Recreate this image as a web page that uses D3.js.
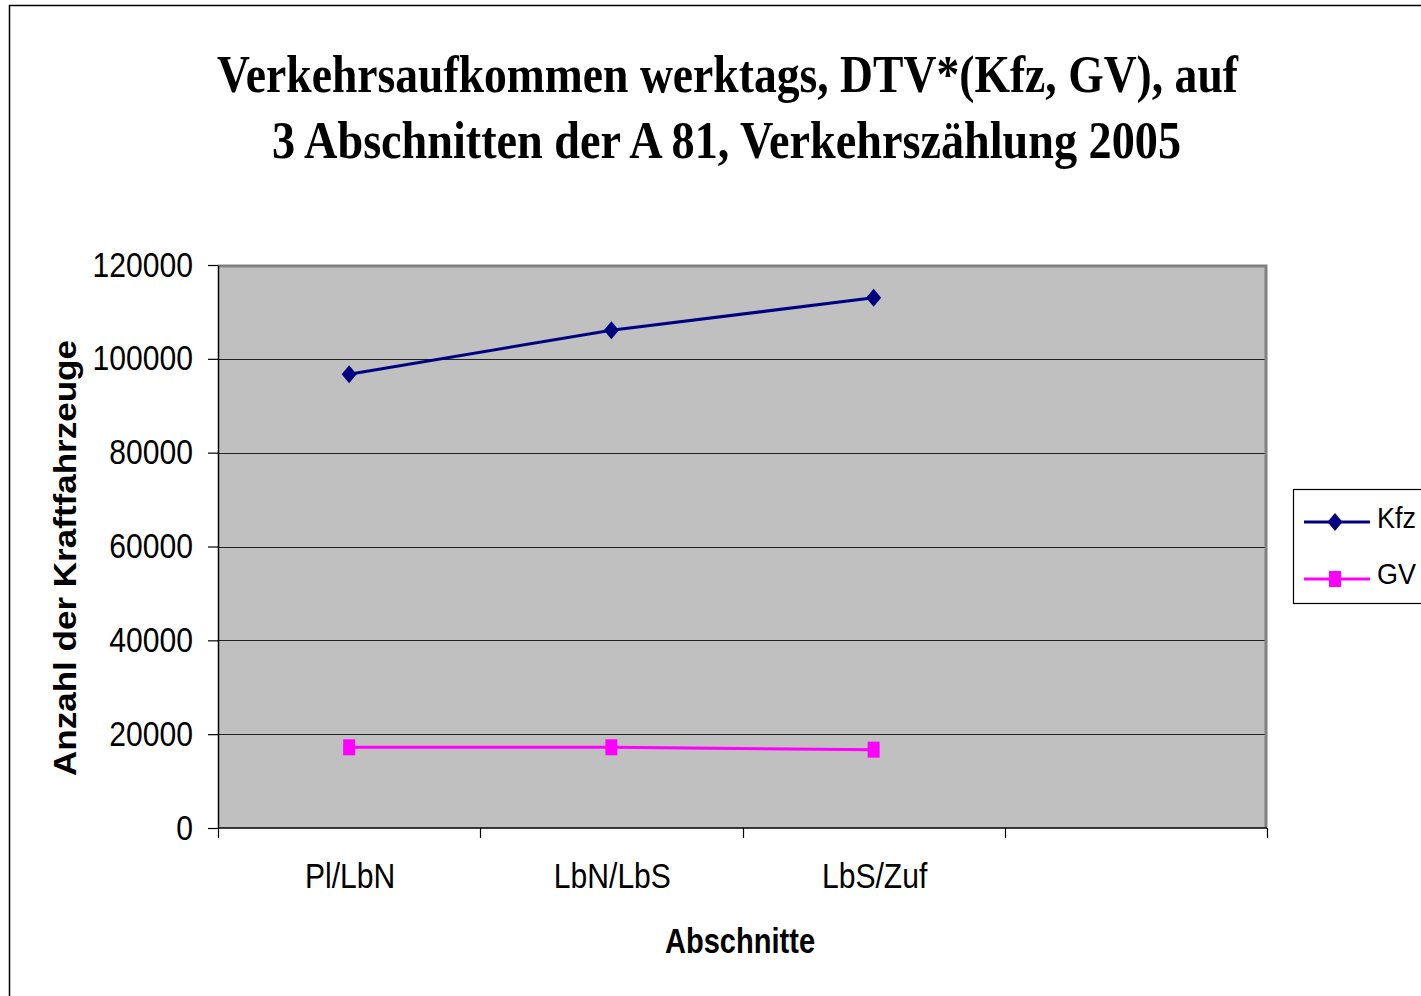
<!DOCTYPE html>
<html><head><meta charset="utf-8">
<script src="https://cdn.jsdelivr.net/npm/d3@7/dist/d3.min.js"></script>
<style>html,body{margin:0;padding:0;background:#fff;overflow:hidden}</style>
</head><body>
<script>
const categories = ["Pl/LbN", "LbN/LbS", "LbS/Zuf", ""];
const kfzValues = [96700, 106100, 113000];
const gvValues = [17200, 17200, 16700];
const yTicks = [0, 20000, 40000, 60000, 80000, 100000, 120000];
const titleLines = ["Verkehrsaufkommen werktags, DTV*(Kfz, GV), auf", "3 Abschnitten der A 81, Verkehrszählung 2005"];
const seriesNames = ["Kfz", "GV"];
const yTitle = "Anzahl der Kraftfahrzeuge";
const xTitle = "Abschnitte";

const W = 1421, H = 996;
const plot = {left: 218, right: 1267, top: 265, bottom: 828};
const SANS = "'Liberation Sans', Arial, sans-serif";
const SERIF = "'Liberation Serif', 'Times New Roman', serif";
const SX = 0.86;

const svg = d3.select("body").append("svg").attr("width", W).attr("height", H);

// outer chart border
svg.append("rect").attr("x", 9.5).attr("y", 5.5).attr("width", 1500).attr("height", 1200)
  .attr("fill", "#fff").attr("stroke", "#000").attr("stroke-width", 1.5);

// title
const titleLayout = [{y: 92, cx: 727.5, len: 1021}, {y: 158, cx: 726.5, len: 909}];
titleLines.forEach((t, i) => {
  svg.append("text").attr("x", titleLayout[i].cx).attr("y", titleLayout[i].y)
    .attr("text-anchor", "middle").attr("font-family", SERIF).attr("font-weight", "bold")
    .attr("font-size", 52).attr("textLength", titleLayout[i].len)
    .attr("lengthAdjust", "spacingAndGlyphs").attr("fill", "#000").text(t);
});

const x = d3.scaleBand().domain(categories).range([plot.left, plot.right]);
const y = d3.scaleLinear().domain([0, 120000]).range([plot.bottom, plot.top]);

// plot background
svg.append("rect").attr("x", plot.left).attr("y", plot.top)
  .attr("width", plot.right - plot.left).attr("height", plot.bottom - plot.top)
  .attr("fill", "#c0c0c0");

// gridlines
svg.append("g").selectAll("line").data(yTicks.filter(v => v > 0 && v < 120000)).join("line")
  .attr("x1", plot.left).attr("x2", plot.right)
  .attr("y1", d => Math.round(y(d)) + 0.5).attr("y2", d => Math.round(y(d)) + 0.5)
  .attr("stroke", "#222").attr("stroke-width", 1.2);

// plot border top/right
svg.append("path")
  .attr("d", `M${plot.left},${plot.top + 1} H${plot.right - 1} V${plot.bottom}`)
  .attr("fill", "none").attr("stroke", "#808080").attr("stroke-width", 3);

// y axis
const yAxis = svg.append("g").attr("transform", `translate(${plot.left},0)`)
  .call(d3.axisLeft(y).tickValues(yTicks).tickSize(10).tickSizeOuter(0).tickFormat(d => String(d)));
yAxis.select(".domain").attr("stroke", "#000").attr("stroke-width", 1.5);
yAxis.selectAll(".tick line").attr("stroke", "#000").attr("stroke-width", 1.2);
yAxis.selectAll(".tick text")
  .attr("font-family", SANS).attr("font-size", 35).attr("fill", "#000")
  .attr("text-anchor", "end").attr("x", -25 / SX).attr("dy", 11)
  .attr("transform", `scale(${SX},1)`);

// x axis (ticks at category boundaries)
const xAxisG = svg.append("g");
xAxisG.append("line").attr("x1", plot.left).attr("x2", plot.right)
  .attr("y1", plot.bottom).attr("y2", plot.bottom).attr("stroke", "#000").attr("stroke-width", 1.5);
const bounds = categories.map(c => x(c)).concat([x.range()[1]]);
xAxisG.selectAll("line.tk").data(bounds).join("line").attr("class", "tk")
  .attr("x1", d => Math.round(d) + 0.5).attr("x2", d => Math.round(d) + 0.5)
  .attr("y1", plot.bottom).attr("y2", plot.bottom + 10).attr("stroke", "#000").attr("stroke-width", 1.2);
xAxisG.selectAll("text").data(categories.filter(c => c !== "")).join("text")
  .attr("transform", d => `translate(${x(d) + x.bandwidth() / 2 + 1},888) scale(${SX},1)`)
  .attr("text-anchor", "middle").attr("font-family", SANS).attr("font-size", 35).attr("fill", "#000")
  .text(d => d);

// axis titles
svg.append("text").attr("transform", `translate(740,953) scale(0.83,1)`)
  .attr("text-anchor", "middle").attr("font-family", SANS).attr("font-weight", "bold")
  .attr("font-size", 35).attr("fill", "#000").text(xTitle);
svg.append("text").attr("transform", `translate(76,558) rotate(-90)`)
  .attr("text-anchor", "middle").attr("font-family", SANS).attr("font-weight", "bold")
  .attr("font-size", 32).attr("textLength", 436).attr("lengthAdjust", "spacingAndGlyphs")
  .attr("fill", "#000").text(yTitle);

// series
const cx = (i) => x(categories[i]) + x.bandwidth() / 2;
const line = d3.line().x((d, i) => cx(i)).y(d => y(d));
const diamond = (px, py) => `M${px},${py - 9} L${px + 7.5},${py} L${px},${py + 9} L${px - 7.5},${py} Z`;

svg.append("path").datum(kfzValues).attr("d", line).attr("fill", "none")
  .attr("stroke", "#000080").attr("stroke-width", 3);
svg.append("g").selectAll("path").data(kfzValues).join("path")
  .attr("d", (d, i) => diamond(cx(i), y(d))).attr("fill", "#000080");

svg.append("path").datum(gvValues).attr("d", line).attr("fill", "none")
  .attr("stroke", "#ff00ff").attr("stroke-width", 3);
svg.append("g").selectAll("rect").data(gvValues).join("rect")
  .attr("x", (d, i) => cx(i) - 6).attr("y", d => y(d) - 8)
  .attr("width", 12).attr("height", 16).attr("fill", "#ff00ff");

// legend
const lg = svg.append("g");
lg.append("rect").attr("x", 1293.5).attr("y", 489.5).attr("width", 200).attr("height", 114)
  .attr("fill", "#fff").attr("stroke", "#000").attr("stroke-width", 1.2);
const legendRows = [{name: seriesNames[0], color: "#000080", ly: 522, ty: 528, marker: "diamond"},
                    {name: seriesNames[1], color: "#ff00ff", ly: 579, ty: 584, marker: "square"}];
legendRows.forEach(r => {
  lg.append("line").attr("x1", 1304).attr("x2", 1370).attr("y1", r.ly).attr("y2", r.ly)
    .attr("stroke", r.color).attr("stroke-width", 3);
  if (r.marker === "diamond") {
    lg.append("path").attr("d", diamond(1335, r.ly)).attr("fill", r.color);
  } else {
    lg.append("rect").attr("x", 1329).attr("y", r.ly - 8).attr("width", 12).attr("height", 16).attr("fill", r.color);
  }
  lg.append("text").attr("transform", `translate(1377,${r.ty}) scale(0.9,1)`)
    .attr("font-family", SANS).attr("font-size", 30).attr("fill", "#000").text(r.name);
});
</script>
</body></html>
